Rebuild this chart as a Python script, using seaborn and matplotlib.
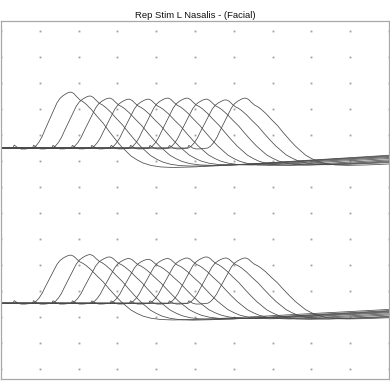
import matplotlib
matplotlib.use("Agg")
import matplotlib.pyplot as plt
import seaborn as sns
import numpy as np
import pandas as pd

title = "Rep Stim L Nasalis - (Facial)"

# stimulus (sweep start) latency of each repetitive trace, ms
stim_ms = [3.1, 8.1, 13.1, 18.1, 23.1, 28.1, 33.1, 38.1, 43.1, 48.1]

# response template, time after stimulus (ms) and normalised amplitude
tmpl_t = [0, 0.3, 0.8, 1.3, 2.1, 3.1, 4.1, 5.2, 5.9, 6.7, 7.5, 8.2, 9.0, 9.8,
          10.6, 11.3, 12.1, 12.9, 13.7, 14.4, 15.0, 15.7, 16.5, 17.3, 18.0,
          18.8, 20.1, 21.6, 23.2, 24.7, 26.3, 27.8, 29.1, 30.4, 32.0, 33.5,
          35.6, 38.1, 41.2, 46.4, 56.7, 67.0, 77.3, 87.6, 97.9]
tmpl_a = [0, 0.053, 0.027, 0, -0.018, -0.018, -0.009, 0, 0.036, 0.107,
          0.205, 0.321, 0.446, 0.571, 0.696, 0.804, 0.888, 0.937, 0.973,
          0.996, 1.0, 0.973, 0.911, 0.857, 0.830, 0.786, 0.696, 0.571,
          0.446, 0.304, 0.161, 0.036, -0.054, -0.143, -0.214, -0.268,
          -0.313, -0.339, -0.348, -0.339, -0.304, -0.259, -0.214, -0.170,
          -0.125]

# peak amplitude of each trace (mV, 1 mV / division)
amp_upper = [2.15, 2.00, 1.92, 1.88, 1.88, 1.92, 1.92, 1.88, 1.85, 1.92]
amp_lower = [1.85, 1.87, 1.78, 1.72, 1.69, 1.72, 1.74, 1.78, 1.74, 1.74]

# baseline of each channel in the display (divisions from centre)
base_upper = 2.0
base_lower = -3.97

rows = []
for panel, amps, base in (("upper", amp_upper, base_upper),
                          ("lower", amp_lower, base_lower)):
    for i, (s, a) in enumerate(zip(stim_ms, amps)):
        cid = f"{panel}{i}"
        rows.append((cid, 0.0, base))
        for t, v in zip(tmpl_t, tmpl_a):
            rows.append((cid, s + t, base + a * v))
df = pd.DataFrame(rows, columns=["curve", "time", "y"])

sns.set_theme(style="white")
plt.rcParams["font.family"] = ["Liberation Sans", "DejaVu Sans"]

fig = plt.figure(figsize=(3.9, 3.9), dpi=100)
ax = fig.add_axes([1 / 390, 11 / 390, 388 / 390, 358 / 390])

# dotted division grid
gx, gy = np.meshgrid(np.arange(0, 101, 10), np.arange(-6.5, 7.0, 1.0))
ax.plot(gx.ravel(), gy.ravel(), ls="none", marker="s", ms=1.3,
        mec="none", mfc="#a0a0a0", zorder=1)

sns.lineplot(data=df, x="time", y="y", units="curve", estimator=None,
             sort=False, color="#4a4a4a", lw=0.55, ax=ax, legend=False,
             zorder=2)

ax.set_xlim(0, 100)
ax.set_ylim(-6.885, 6.885)
ax.set_xticks([])
ax.set_yticks([])
ax.set_xlabel("")
ax.set_ylabel("")
for sp in ax.spines.values():
    sp.set_visible(True)
    sp.set_color("#a8a8a8")
    sp.set_linewidth(0.9)

fig.text(0.5, 1 - 15.5 / 390, title, ha="center", va="center",
         fontsize=6.8, color="#111111")

fig.savefig("out.png", dpi=100)
